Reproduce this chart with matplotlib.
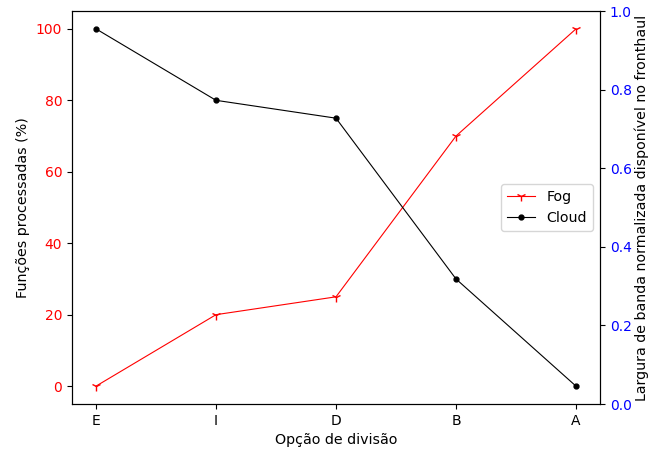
import matplotlib
matplotlib.use("Agg")
import matplotlib.pyplot as plt

categories = ["E", "I", "D", "B", "A"]
fog = [0, 20, 25, 70, 100]
cloud = [100, 80, 75, 30, 0]

fig = plt.figure(figsize=(6.51, 4.54), dpi=100)
ax = fig.add_axes([72/651, 1-404/454, (600-72)/651, (404-11)/454])
x = list(range(len(categories)))
l1, = ax.plot(x, fog, color="red", marker="1", markersize=7, linewidth=0.8, label="Fog")
l2, = ax.plot(x, cloud, color="black", marker=".", markersize=7, linewidth=0.8, label="Cloud")
ax.set_xticks(x)
ax.set_xticklabels(categories)
ax.set_ylim(-5, 105)
ax.set_yticks([0, 20, 40, 60, 80, 100])
ax.tick_params(axis="y", labelcolor="red")
ax.set_xlabel("Opção de divisão", fontsize=10.3)
ax.set_ylabel("Funções processadas (%)", fontsize=10.3)
ax2 = ax.twinx()
ax2.set_ylim(0, 1.0)
ax2.tick_params(axis="y", labelcolor="blue")
ax2.set_ylabel("Largura de banda normalizada disponível no fronthaul", fontsize=10.2, labelpad=2)
ax.legend(handles=[l1, l2], loc="center right", fontsize=10.2)
fig.savefig("out.png", dpi=100)
